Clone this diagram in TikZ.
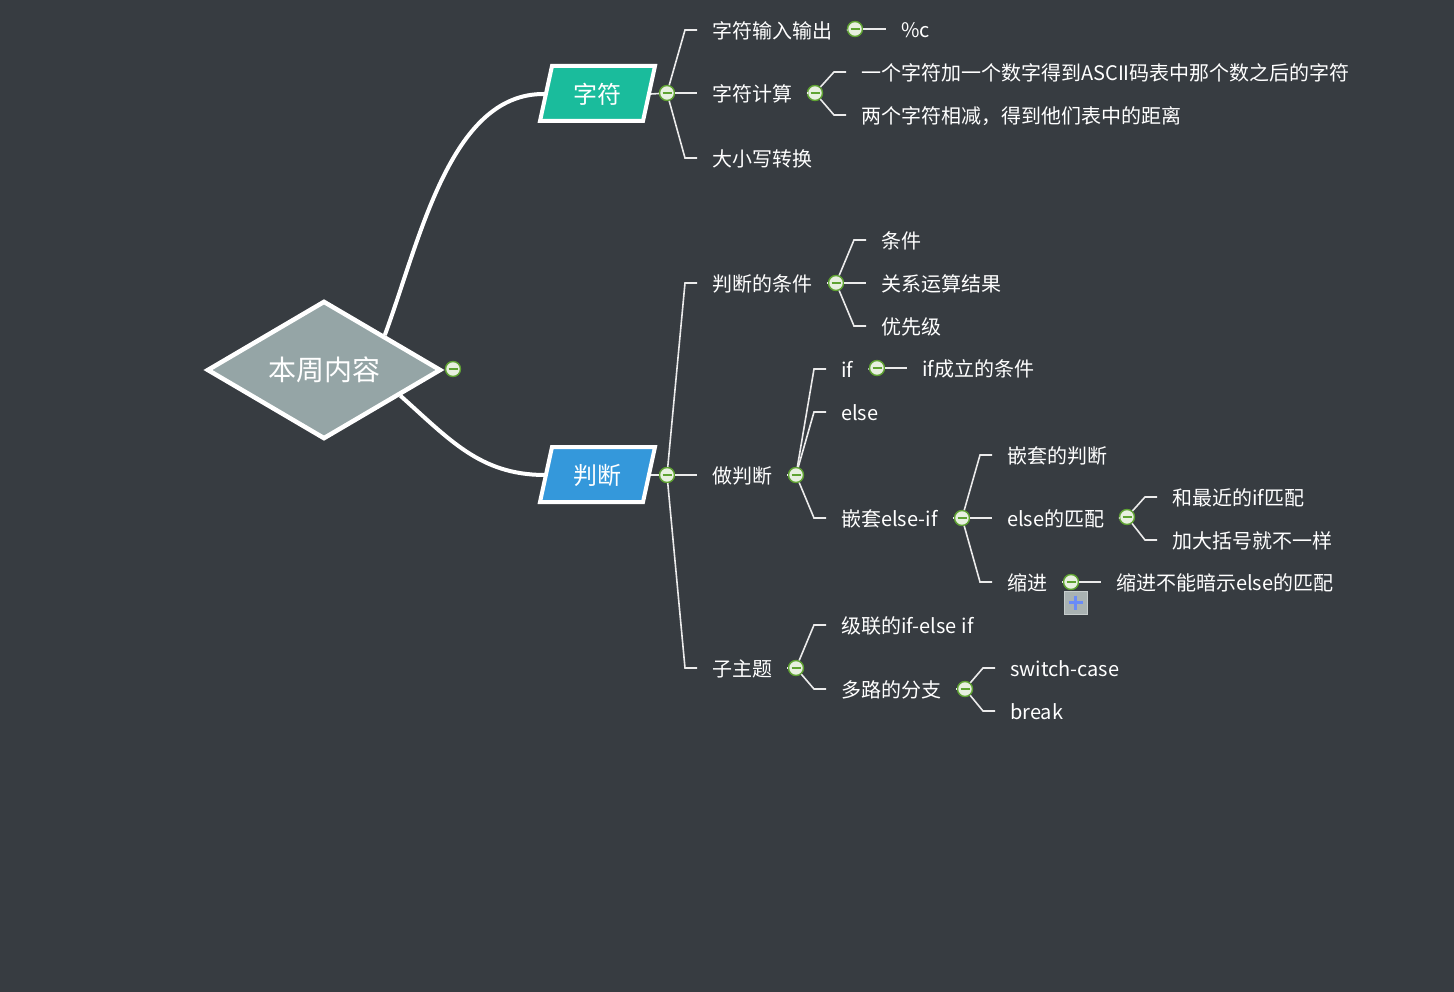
\documentclass[tikz,border=0pt]{standalone}
\usepackage{fontspec}
\setmainfont{Noto Sans CJK SC}
\usetikzlibrary{shapes.geometric,calc}
\definecolor{bg}{HTML}{373C41}
\definecolor{dmgrey}{HTML}{95A5A6}
\definecolor{tealbox}{HTML}{1ABC9C}
\definecolor{bluebox}{HTML}{3498DB}
\definecolor{clgreen}{HTML}{5FA332}
\definecolor{clfill}{HTML}{E8F0E0}
\definecolor{icongrey}{HTML}{A9B2B2}
\definecolor{iconedge}{HTML}{C6CCCC}
\definecolor{iconblue}{HTML}{6A8BF8}
\begin{document}
\begin{tikzpicture}[x=1pt,y=-1pt,
  t/.style={anchor=west, inner xsep=15pt, inner ysep=0pt, text height=17pt, text depth=0pt,
            text=white, font=\fontsize{20}{24}\selectfont},
  conn/.style={draw=white!92!black, line width=1.6pt},
  thick/.style={draw=white, line width=4pt},
  col/.style={circle, draw=clgreen, line width=1.4pt, fill=clfill, minimum size=15pt, inner sep=0pt,
    path picture={\draw[clgreen, line width=1.4pt]
      ([xshift=-4.5pt]path picture bounding box.center) -- ([xshift=4.5pt]path picture bounding box.center);}},
  boxtext/.style={text=white, font=\fontsize{24}{28}\selectfont, minimum width=107pt, minimum height=55pt, inner sep=0pt}
  ]
\fill[bg] (0,0) rectangle (1454,992);
\useasboundingbox (0,0) rectangle (1454,992);

% central diamond
\node[diamond, draw=white, line width=4.5pt, fill=dmgrey, minimum width=234pt, minimum height=136pt,
      inner sep=0pt, text=white, font=\fontsize{28}{32}\selectfont] (dm) at (324,370) {本周内容};
\node[col] (dmc) at (453,369) {};

% branch boxes
\filldraw[fill=tealbox, draw=white, line width=4pt, line join=miter]
  (552,66) -- (655,66) -- (643,121) -- (540,121) -- cycle;
\node[boxtext] (zf) at (597.5,94) {字符};
\filldraw[fill=bluebox, draw=white, line width=4pt, line join=miter]
  (552,447) -- (655,447) -- (643,502) -- (540,502) -- cycle;
\node[boxtext] (pd) at (597.5,475) {判断};

% curves from diamond
\draw[thick] ($(dm.east)!0.49!(dm.north)$) .. controls (420,240) and (450,93.5) .. (zf.west);
\draw[thick] ($(dm.east)!0.36!(dm.south)$) .. controls (450,440) and (480,474.5) .. (pd.west);

% collapse circles of boxes
\node[col] (zfc) at (667,93) {};
\node[col] (pdc) at (667,475) {};
\draw[conn] (zf.east) -- (zfc);
\draw[conn] (pd.east) -- (pdc);

% ---------- 字符 ----------
\node[t] (a1) at (697,30) {字符输入输出};
\node[t] (a2) at (697,93) {字符计算};
\node[t] (a3) at (697,158) {大小写转换};
\draw[conn] (zfc) -- ([xshift=-12pt]a1.west) -- (a1.west);
\draw[conn] (zfc) -- (a2.west);
\draw[conn] (zfc) -- ([xshift=-12pt]a3.west) -- (a3.west);

\node[col] (a1c) at (855,29) {};
\node[t] (a1a) at (886,29) {\%c};
\draw[conn] (a1.east) -- (a1c);
\draw[conn] (a1c) -- (a1a.west);

\node[col] (a2c) at (815,93) {};
\node[t] (b1) at (846,72) {一个字符加一个数字得到ASCII码表中那个数之后的字符};
\node[t] (b2) at (846,115) {两个字符相减，得到他们表中的距离};
\draw[conn] (a2.east) -- (a2c);
\draw[conn] (a2c) -- ([xshift=-12pt]b1.west) -- (b1.west);
\draw[conn] (a2c) -- ([xshift=-12pt]b2.west) -- (b2.west);

% ---------- 判断 ----------
\node[t] (p1) at (697,283) {判断的条件};
\node[t] (p2) at (697,475) {做判断};
\node[t] (p3) at (697,668) {子主题};
\draw[conn] (pdc) -- ([xshift=-12pt]p1.west) -- (p1.west);
\draw[conn] (pdc) -- (p2.west);
\draw[conn] (pdc) -- ([xshift=-12pt]p3.west) -- (p3.west);

% 判断的条件
\node[col] (p1c) at (836,283) {};
\node[t] (q1) at (866,240) {条件};
\node[t] (q2) at (866,283) {关系运算结果};
\node[t] (q3) at (866,326) {优先级};
\draw[conn] (p1.east) -- (p1c);
\draw[conn] (p1c) -- ([xshift=-12pt]q1.west) -- (q1.west);
\draw[conn] (p1c) -- (q2.west);
\draw[conn] (p1c) -- ([xshift=-12pt]q3.west) -- (q3.west);

% 做判断
\node[col] (p2c) at (796,475) {};
\node[t] (r1) at (826,369) {if};
\node[t] (r2) at (826,412) {else};
\node[t] (r3) at (826,518) {嵌套else-if};
\draw[conn] (p2.east) -- (p2c);
\draw[conn] (p2c) -- ([xshift=-12pt]r1.west) -- (r1.west);
\draw[conn] (p2c) -- ([xshift=-12pt]r2.west) -- (r2.west);
\draw[conn] (p2c) -- ([xshift=-12pt]r3.west) -- (r3.west);

\node[col] (r1c) at (877,368) {};
\node[t] (r1a) at (907,368) {if成立的条件};
\draw[conn] (r1.east) -- (r1c);
\draw[conn] (r1c) -- (r1a.west);

% 嵌套else-if
\node[col] (r3c) at (962,518) {};
\node[t] (s1) at (992,455) {嵌套的判断};
\node[t] (s2) at (992,518) {else的匹配};
\node[t] (s3) at (992,582) {缩进};
\draw[conn] (r3.east) -- (r3c);
\draw[conn] (r3c) -- ([xshift=-12pt]s1.west) -- (s1.west);
\draw[conn] (r3c) -- (s2.west);
\draw[conn] (r3c) -- ([xshift=-12pt]s3.west) -- (s3.west);

\node[col] (s2c) at (1127,517) {};
\node[t] (u1) at (1157,497) {和最近的if匹配};
\node[t] (u2) at (1157,540) {加大括号就不一样};
\draw[conn] (s2.east) -- (s2c);
\draw[conn] (s2c) -- ([xshift=-12pt]u1.west) -- (u1.west);
\draw[conn] (s2c) -- ([xshift=-12pt]u2.west) -- (u2.west);

\node[col] (s3c) at (1071,582) {};
\node[t] (s3a) at (1101,582) {缩进不能暗示else的匹配};
\draw[conn] (s3.east) -- (s3c);
\draw[conn] (s3c) -- (s3a.west);

% plus icon
\filldraw[fill=icongrey, draw=iconedge, line width=1pt] (1064,591) rectangle (1087,614);
\draw[iconblue, line width=3.2pt] (1068.5,602.5) -- (1082.5,602.5);
\draw[iconblue, line width=3.2pt] (1075.5,595.5) -- (1075.5,609.5);

% 子主题
\node[col] (p3c) at (796,668) {};
\node[t] (v1) at (826,625) {级联的if-else if};
\node[t] (v2) at (826,689) {多路的分支};
\draw[conn] (p3.east) -- (p3c);
\draw[conn] (p3c) -- ([xshift=-12pt]v1.west) -- (v1.west);
\draw[conn] (p3c) -- ([xshift=-12pt]v2.west) -- (v2.west);

\node[col] (v2c) at (965,689) {};
\node[t] (w1) at (995,668) {switch-case};
\node[t] (w2) at (995,711) {break};
\draw[conn] (v2.east) -- (v2c);
\draw[conn] (v2c) -- ([xshift=-12pt]w1.west) -- (w1.west);
\draw[conn] (v2c) -- ([xshift=-12pt]w2.west) -- (w2.west);
\end{tikzpicture}
\end{document}
